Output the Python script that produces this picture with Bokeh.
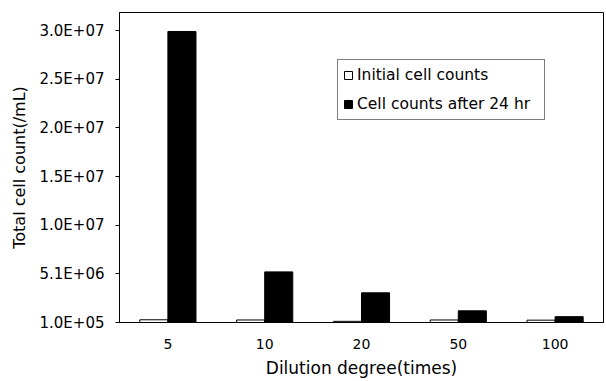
from bokeh.plotting import figure
from bokeh.models import FactorRange, Range1d, FixedTicker, ColumnDataSource, Legend, LegendItem
from bokeh.transform import dodge
from bokeh.embed import file_html
from bokeh.resources import INLINE

# Dilution degrees (times) and total cell counts (/mL)
dilutions = ["5", "10", "20", "50", "100"]
initial_counts = [3.8e5, 3.6e5, 2.2e5, 3.6e5, 3.4e5]
counts_after_24h = [3.0e7, 5.3e6, 3.15e6, 1.3e6, 7.0e5]

# y axis ticks and their printed labels
y_ticks = [1.0e5, 5.1e6, 1.01e7, 1.51e7, 2.01e7, 2.51e7, 3.01e7]
y_tick_labels = ["1.0E+05", "5.1E+06", "1.0E+07", "1.5E+07", "2.0E+07", "2.5E+07", "3.0E+07"]

Y_MIN, Y_MAX = 1.0e5, 3.195e7
FONT = "DejaVu Sans"

source = ColumnDataSource(data=dict(
    dilution=dilutions,
    initial=initial_counts,
    after=counts_after_24h,
))

p = figure(
    width=606, height=381,
    x_range=FactorRange(*dilutions),
    y_range=Range1d(Y_MIN, Y_MAX),
    output_backend="svg", toolbar_location=None,
    min_border_left=119, min_border_right=3,
    min_border_top=12, min_border_bottom=59,
)

bar_w = 0.29
r_init = p.vbar(x=dodge("dilution", -bar_w / 2, range=p.x_range), top="initial",
                bottom=Y_MIN, width=bar_w, source=source,
                fill_color="white", line_color="black", line_width=1)
r_after = p.vbar(x=dodge("dilution", bar_w / 2, range=p.x_range), top="after",
                 bottom=Y_MIN, width=bar_w, source=source,
                 fill_color="black", line_color="black", line_width=1)

# frame and grid
p.xgrid.visible = False
p.ygrid.visible = False
p.outline_line_color = "black"
p.outline_line_width = 1
p.background_fill_color = "white"
p.border_fill_color = "white"

# y axis
ya = p.yaxis[0]
ya.ticker = FixedTicker(ticks=y_ticks)
ya.major_label_overrides = {t: s for t, s in zip(y_ticks, y_tick_labels)}
ya.axis_label = "Total cell count(/mL)"
ya.axis_label_text_font = FONT
ya.axis_label_text_font_size = "16px"
ya.axis_label_text_font_style = "normal"
ya.axis_label_text_color = "black"
ya.axis_label_standoff = 8
ya.major_label_text_font = FONT
ya.major_label_text_font_size = "15px"
ya.major_label_text_color = "black"
ya.major_label_standoff = 11
ya.major_tick_out = 4
ya.major_tick_in = 0
ya.minor_tick_out = 0
ya.minor_tick_in = 0
ya.axis_line_color = "black"
ya.major_tick_line_color = "black"

# x axis
xa = p.xaxis[0]
xa.axis_label = "Dilution degree(times)"
xa.axis_label_text_font = FONT
xa.axis_label_text_font_size = "17px"
xa.axis_label_text_font_style = "normal"
xa.axis_label_text_color = "black"
xa.axis_label_standoff = 6
xa.major_label_text_font = FONT
xa.major_label_text_font_size = "14px"
xa.major_label_text_color = "black"
xa.major_label_standoff = 16
xa.major_tick_out = 0
xa.major_tick_in = 0
xa.axis_line_color = "black"

legend = Legend(
    items=[LegendItem(label="Initial cell counts", renderers=[r_init]),
           LegendItem(label="Cell counts after 24 hr", renderers=[r_after])],
    location=(218, 202),
    border_line_color="black", border_line_width=1,
    background_fill_color="white", background_fill_alpha=1,
    label_text_font=FONT, label_text_font_size="15.5px", label_text_color="black",
    glyph_width=10, glyph_height=10, label_height=20, label_width=182,
    label_standoff=4, spacing=9, padding=5, margin=0,
)
p.add_layout(legend, "center")

open("out.html", "w").write(file_html(p, INLINE))
